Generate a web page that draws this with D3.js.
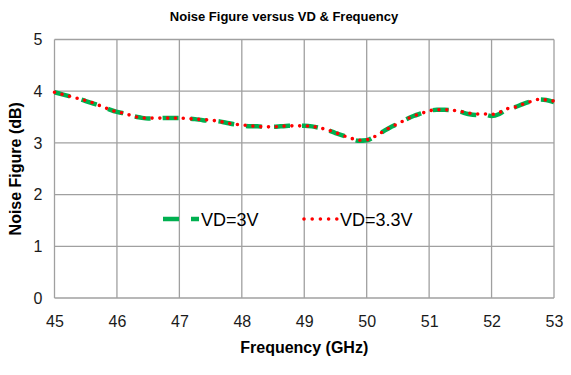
<!DOCTYPE html>
<html>
<head>
<meta charset="utf-8">
<script src="https://cdn.jsdelivr.net/npm/d3@7"></script>
<style>
  body { margin: 0; background: #fff; }
  text { font-family: "Liberation Sans", Arial, sans-serif; }
</style>
</head>
<body>
<svg width="571" height="375"></svg>
<script>
// Data
var freqs = [45.000, 45.125, 45.250, 45.375, 45.500, 45.625, 45.750, 45.875,
  46.000, 46.125, 46.250, 46.375, 46.500, 46.625, 46.750, 46.875,
  47.000, 47.125, 47.250, 47.375, 47.500, 47.625, 47.750, 47.875,
  48.000, 48.125, 48.250, 48.375, 48.500, 48.625, 48.750, 48.875,
  49.000, 49.125, 49.250, 49.375, 49.500, 49.625, 49.750, 49.875,
  50.000, 50.125, 50.250, 50.375, 50.500, 50.625, 50.750, 50.875,
  51.000, 51.125, 51.250, 51.375, 51.500, 51.625, 51.750, 51.875,
  52.000, 52.125, 52.250, 52.375, 52.500, 52.625, 52.750, 52.875, 53.000];

var nf3V = [3.98, 3.94, 3.90, 3.86, 3.81, 3.76, 3.71, 3.65,
  3.60, 3.57, 3.52, 3.49, 3.47, 3.47, 3.48, 3.48,
  3.48, 3.47, 3.46, 3.44, 3.43, 3.42, 3.39, 3.36,
  3.34, 3.32, 3.32, 3.31, 3.31, 3.32, 3.33, 3.33,
  3.33, 3.32, 3.29, 3.25, 3.19, 3.14, 3.08, 3.04,
  3.05, 3.12, 3.21, 3.30, 3.37, 3.45, 3.52, 3.57,
  3.62, 3.64, 3.64, 3.63, 3.60, 3.56, 3.54, 3.55,
  3.52, 3.56, 3.65, 3.69, 3.75, 3.80, 3.84, 3.83, 3.79];

var nf33V = [3.98, 3.94, 3.90, 3.86, 3.82, 3.77, 3.71, 3.65,
  3.60, 3.57, 3.52, 3.49, 3.48, 3.48, 3.48, 3.48,
  3.48, 3.47, 3.46, 3.45, 3.44, 3.42, 3.39, 3.36,
  3.35, 3.33, 3.32, 3.31, 3.31, 3.32, 3.33, 3.33,
  3.33, 3.32, 3.29, 3.25, 3.20, 3.14, 3.09, 3.05,
  3.06, 3.12, 3.21, 3.30, 3.37, 3.45, 3.52, 3.57,
  3.62, 3.64, 3.64, 3.63, 3.61, 3.58, 3.56, 3.56,
  3.55, 3.59, 3.66, 3.69, 3.75, 3.80, 3.84, 3.83, 3.81];

var xTicks = [45, 46, 47, 48, 49, 50, 51, 52, 53];
var yTicks = [0, 1, 2, 3, 4, 5];
var seriesNames = ["VD=3V", "VD=3.3V"];

// The svg and plot box
var svg = d3.select("svg");
var plotL = 54.5, plotR = 554, plotT = 39.5, plotB = 298;

var x = d3.scaleLinear().domain([45, 53]).range([plotL, plotR]);
var y = d3.scaleLinear().domain([0, 5]).range([plotB, plotT]);

// Title
svg.append("text")
  .attr("x", 284)
  .attr("y", 21)
  .attr("text-anchor", "middle")
  .style("font-weight", "bold")
  .style("font-size", "13px")
  .text("Noise Figure versus VD & Frequency");

// Grid lines
var grid = svg.append("g").attr("stroke", "#a0a0a0").attr("stroke-width", 1.3);
grid.selectAll(".vg")
  .data(xTicks)
  .enter()
  .append("line")
  .attr("x1", function (d) { return x(d); })
  .attr("x2", function (d) { return x(d); })
  .attr("y1", plotT)
  .attr("y2", plotB);
grid.selectAll(".hg")
  .data(yTicks)
  .enter()
  .append("line")
  .attr("x1", plotL)
  .attr("x2", plotR)
  .attr("y1", function (d) { return y(d); })
  .attr("y2", function (d) { return y(d); });

// Axes (labels only)
var xAxis = svg.append("g")
  .attr("transform", "translate(0," + plotB + ")")
  .call(d3.axisBottom(x).tickValues(xTicks).tickSize(0).tickPadding(18).tickFormat(d3.format("d")));
var yAxis = svg.append("g")
  .attr("transform", "translate(" + plotL + ",0)")
  .call(d3.axisLeft(y).tickValues(yTicks).tickSize(0).tickPadding(12).tickFormat(d3.format("d")));
[xAxis, yAxis].forEach(function (a) {
  a.select(".domain").remove();
  a.selectAll("text")
    .style("font-size", "16px")
    .style("font-family", "'Liberation Sans', Arial, sans-serif")
    .attr("fill", "#1a1a1a");
});

// Axis titles
svg.append("text")
  .attr("x", (plotL + plotR) / 2)
  .attr("y", 353)
  .attr("text-anchor", "middle")
  .style("font-weight", "bold")
  .style("font-size", "16px")
  .text("Frequency (GHz)");
svg.append("text")
  .attr("transform", "translate(21," + (plotT + plotB) / 2 + ") rotate(-90)")
  .attr("text-anchor", "middle")
  .style("font-weight", "bold")
  .style("font-size", "16px")
  .text("Noise Figure (dB)");

// Lines
var line = d3.line()
  .x(function (d) { return x(d[0]); })
  .y(function (d) { return y(d[1]); })
  .curve(d3.curveMonotoneX);

svg.append("path")
  .datum(d3.zip(freqs, nf3V))
  .attr("d", line)
  .attr("fill", "none")
  .attr("stroke", "#00b050")
  .attr("stroke-width", 4.5)
  .attr("stroke-dasharray", "16 12");

svg.append("path")
  .datum(d3.zip(freqs, nf33V))
  .attr("d", line)
  .attr("fill", "none")
  .attr("stroke", "#ff0000")
  .attr("stroke-width", 3.6)
  .attr("stroke-linecap", "round")
  .attr("stroke-dasharray", "0 7.8");

// Legend
var legY = 219;
var leg = svg.append("g");
leg.append("line")
  .attr("x1", 163).attr("x2", 199)
  .attr("y1", legY).attr("y2", legY)
  .attr("stroke", "#00b050")
  .attr("stroke-width", 4.5)
  .attr("stroke-dasharray", "16 12");
leg.append("text")
  .attr("x", 201).attr("y", legY + 6.5)
  .style("font-size", "18px")
  .text(seriesNames[0]);
leg.append("line")
  .attr("x1", 304).attr("x2", 339)
  .attr("y1", legY).attr("y2", legY)
  .attr("stroke", "#ff0000")
  .attr("stroke-width", 3.6)
  .attr("stroke-linecap", "round")
  .attr("stroke-dasharray", "0 8.2");
leg.append("text")
  .attr("x", 340).attr("y", legY + 6.5)
  .style("font-size", "18px")
  .text(seriesNames[1]);
</script>
</body>
</html>
